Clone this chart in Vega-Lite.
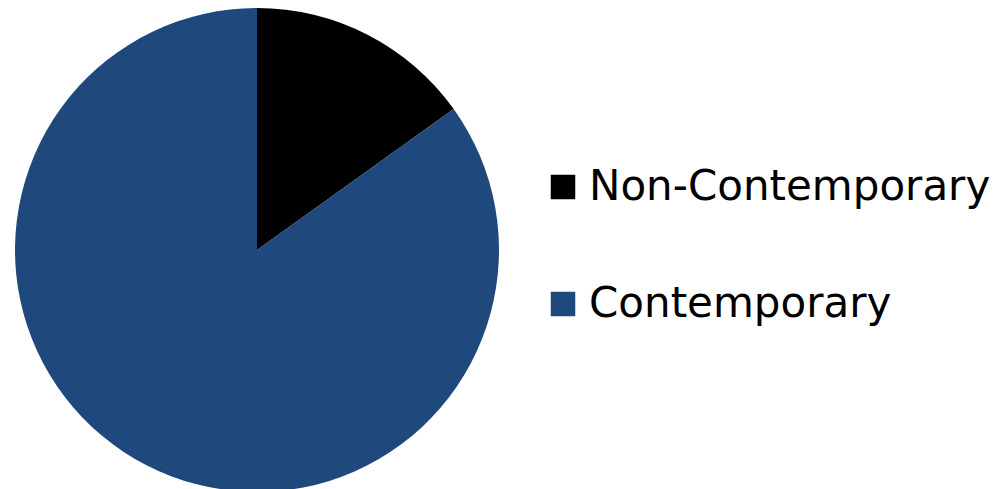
{
  "$schema": "https://vega.github.io/schema/vega-lite/v6.json",
  "width": 514,
  "height": 500,
  "padding": 0,
  "autosize": {"type": "pad"},
  "background": "white",
  "view": {"stroke": null},
  "data": {"values": [
    {"category": "Non-Contemporary", "share": 15.1},
    {"category": "Contemporary", "share": 84.9}
  ]},
  "mark": {"type": "arc", "outerRadius": 242},
  "encoding": {
    "theta": {"field": "share", "type": "quantitative", "stack": true},
    "order": {"field": "share", "type": "quantitative", "sort": "ascending"},
    "color": {
      "field": "category",
      "type": "nominal",
      "scale": {"domain": ["Non-Contemporary", "Contemporary"], "range": ["#000000", "#1F497D"]},
      "legend": {
        "title": null,
        "orient": "none",
        "legendX": 542,
        "legendY": 166,
        "symbolType": "square",
        "symbolSize": 600,
        "symbolStrokeWidth": 0,
        "labelFont": "DejaVu Sans",
        "labelFontSize": 42,
        "labelColor": "#000000",
        "labelOffset": 5,
        "labelLimit": 600,
        "rowPadding": 75
      }
    }
  }
}
